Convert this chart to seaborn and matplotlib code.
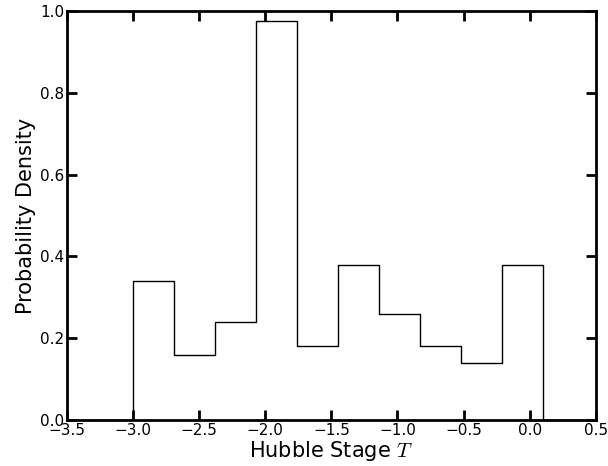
import numpy as np
import pandas as pd
import seaborn as sns
from matplotlib import pyplot as plt

sns.set_theme(style="white")
plt.rcParams['font.family'] = ['DejaVu Sans']
plt.rcParams['mathtext.fontset'] = 'cm'
plt.rcParams['text.color'] = 'black'
plt.rcParams['axes.labelcolor'] = 'black'
plt.rcParams['xtick.color'] = 'black'
plt.rcParams['ytick.color'] = 'black'

# histogram bins (Hubble stage T) and probability densities
bin_edges = [-3.0, -2.69, -2.38, -2.07, -1.76, -1.45, -1.14, -0.83, -0.52, -0.21, 0.10]
density = [0.34, 0.16, 0.24, 0.976, 0.18, 0.38, 0.26, 0.18, 0.14, 0.38]

# pad with an empty bin each side so the step outline drops to zero
w = bin_edges[1] - bin_edges[0]
edges = [bin_edges[0] - w] + bin_edges + [bin_edges[-1] + w]
weights = [0.0] + density + [0.0]
centers = [(a + b) / 2 for a, b in zip(edges[:-1], edges[1:])]
df = pd.DataFrame({"T": centers, "density": weights})

fig = plt.figure(figsize=(6.08, 4.66), dpi=100)
ax = fig.add_axes([0.110, 0.0987, 0.870, 0.8777])

sns.histplot(data=df, x="T", weights="density", bins=edges,
             stat="count", element="step", fill=False,
             color="black", linewidth=1.0, ax=ax)

ax.set_xlim(-3.5, 0.5)
ax.set_ylim(0, 1.0)
ax.set_xticks(np.arange(-3.5, 0.51, 0.5))
ax.set_yticks(np.arange(0, 1.01, 0.2))
ax.set_xlabel("Hubble Stage $T$", fontsize=15, labelpad=1)
ax.set_ylabel("Probability Density", fontsize=15, labelpad=3)
ax.tick_params(direction="in", length=7, width=2, labelsize=11, pad=2,
               top=True, right=True, bottom=True, left=True)
for s in ax.spines.values():
    s.set_linewidth(2)
    s.set_color("black")
    s.set_zorder(3)

plt.savefig("out.png", dpi=100)
